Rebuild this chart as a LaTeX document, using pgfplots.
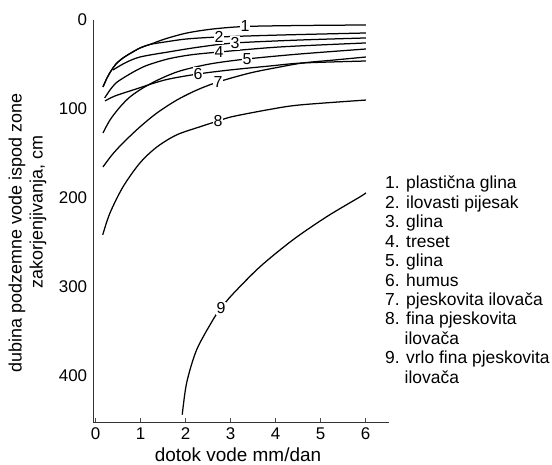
\documentclass[border=0pt]{standalone}
\usepackage{pgfplots}
\pgfplotsset{compat=1.18}
\usepackage{fontspec}
\setmainfont{Liberation Sans}
\begin{document}
\fontsize{17}{19.5}\selectfont
\begin{tikzpicture}
\path[use as bounding box] (0bp,0bp) rectangle (552bp,465bp);
\begin{axis}[
  at={(93bp,43bp)}, anchor=south west,
  scale only axis, width=296bp, height=402bp,
  xmin=-0.06, xmax=6.52, ymin=0, ymax=452,
  y dir=reverse,
  axis x line*=bottom, axis y line*=left,
  axis line style={line width=0.9bp, black!80, -},
  xtick={0,1,...,6}, ytick={0,100,200,300,400},
  tick align=inside, major tick length=4bp,
  xtick style={line width=0.7bp, black!70},
  ytick style={draw=none},
  tick label style={font=\fontsize{17}{19}\selectfont},
  /pgf/number format/assume math mode=true,
  every axis plot post/.append style={black, solid, line width=1.25bp, smooth, mark=none},
]
% 1. plasticna glina
\addplot coordinates {(0.162,75.3)(0.251,65.2)(0.340,57.3)(0.451,49.4)(0.607,42.7)(0.784,37.1)(0.984,31.5)(1.207,27.5)
  (1.540,21.3)(2.029,14.6)(2.607,10.1)(3.318,7.3)(4.540,6.2)(6.007,5.6)};
% 2. ilovasti pijesak
\addplot coordinates {(0.162,75.3)(0.251,65.2)(0.340,57.3)(0.451,49.4)(0.607,42.7)(0.784,37.1)(0.984,31.5)(1.207,27.5)
  (1.540,24.7)(2.029,21.3)(2.740,19.1)(4.096,16.9)(6.007,14.6)};
% 3. glina
\addplot coordinates {(0.384,56.2)(0.651,48.3)(0.984,41.6)(1.607,36.0)(2.318,30.3)(3.096,25.8)(4.540,22.5)(6.007,20.2)};
% 4. treset
\addplot coordinates {(0.2,87.6)(0.318,78.7)(0.451,70.8)(0.651,64.0)(0.918,56.2)(1.162,50.6)(1.607,43.8)(2.096,39.3)
  (2.740,36.0)(4.096,30.3)(6.007,25.8)};
% 5. glina
\addplot coordinates {(0.162,127.0)(0.318,112.4)(0.540,97.8)(0.762,86.5)(1.051,76.4)(1.429,66.3)(1.873,57.3)(2.540,49.4)
  (3.362,43.8)(4.540,38.2)(6.007,32.6)};
% 6. humus
\addplot coordinates {(0.207,91.0)(0.429,85.4)(0.829,78.7)(1.540,67.4)(2.273,60.7)(2.984,56.2)(3.873,51.7)(4.607,48.3)(6.007,46.1)};
% 7. pjeskovita ilovaca
\addplot coordinates {(0.162,165.2)(0.362,151.7)(0.607,138.2)(0.984,120.2)(1.362,104.5)(1.807,89.9)(2.251,78.7)(2.718,69.7)
  (3.429,59.6)(4.096,52.8)(4.607,48.3)(5.318,44.9)(6.007,41.6)};
% 8. fina pjeskovita ilovaca
\addplot coordinates {(0.156,241.6)(0.318,216.9)(0.607,187.6)(0.984,160.7)(1.362,142.7)(1.807,129.0)(2.384,119.0)(2.718,113.5)
  (3.051,108.5)(3.873,100.5)(4.540,95.5)(6.007,90.0)};
% 9. vrlo fina pjeskovita ilovaca
\addplot coordinates {(1.924,443.8)(2.022,407.9)(2.244,370.8)(2.607,337.1)(2.784,324.0)(3.051,308.0)(3.651,277.5)(4.384,247.2)
  (5.140,221.0)(5.873,198.9)(6.007,194.4)};

\tikzset{lab/.style={fill=white, inner sep=1bp, font=\fontsize{16}{16}\selectfont}}
\node[lab] at (axis cs:3.318,7.3) {1};
\node[lab] at (axis cs:2.740,19.1) {2};
\node[lab] at (axis cs:3.096,25.8) {3};
\node[lab] at (axis cs:2.740,36.0) {4};
\node[lab] at (axis cs:3.362,43.8) {5};
\node[lab] at (axis cs:2.273,60.7) {6};
\node[lab] at (axis cs:2.718,69.7) {7};
\node[lab] at (axis cs:2.718,113.5) {8};
\node[lab] at (axis cs:2.784,324.0) {9};
\end{axis}
% axis labels
\node[rotate=90, font=\fontsize{18}{21}\selectfont] at (17bp,232bp) {dubina podzemne vode ispod zone};
\node[rotate=90, font=\fontsize{18}{21}\selectfont] at (38bp,253bp) {zakorjenjivanja, cm};
\node[font=\fontsize{19}{21}\selectfont] at (238bp,10bp) {dotok vode mm/dan};
% legend text
\node[anchor=north west, inner sep=0pt, align=left, font=\fontsize{17.5}{19.5}\selectfont] at (385bp,289bp) {%
1. plastična glina\\
2. ilovasti pijesak\\
3. glina\\
4. treset\\
5. glina\\
6. humus\\
7. pjeskovita ilovača\\
8. fina pjeskovita\\
\hspace*{19.5bp}ilovača\\
9. vrlo fina pjeskovita\\
\hspace*{19.5bp}ilovača};
\end{tikzpicture}
\end{document}
